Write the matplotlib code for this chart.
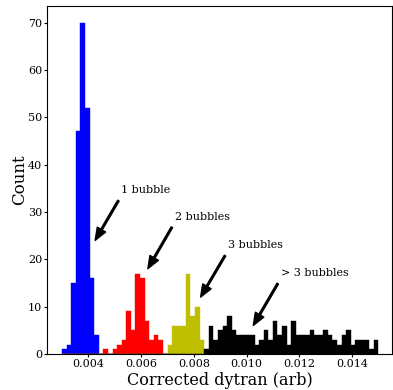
import numpy as np
import matplotlib
matplotlib.use('Agg')
from matplotlib import pyplot as plt

plt.rcParams['font.family'] = 'serif'
plt.rcParams['font.serif'] = ['DejaVu Serif']

# common histogram grid
bin_lo = 0.003
bin_hi = 0.015
n_bins = 69

# counts per group, with the index of the first bin of each group
blue_start = 0
blue_counts = [1, 2, 15, 47, 70, 52, 16, 4]
red_start = 9
red_counts = [1, 0, 1, 2, 3, 9, 5, 17, 16, 7, 3, 4, 3]
yellow_start = 23
yellow_counts = [2, 6, 6, 6, 17, 8, 10, 3]
black_start = 31
black_counts = [1, 6, 3, 5, 6, 8, 5, 4, 4, 4, 4, 2, 3, 5, 3, 7, 4, 6, 2, 7,
                4, 4, 4, 5, 4, 4, 5, 4, 3, 2, 4, 5, 2, 3, 3, 3, 1, 3]

labels = ['1 bubble', '2 bubbles', '3 bubbles', '> 3 bubbles']
arrow_tips = [(0.0042, 23.5), (0.0062, 17.5), (0.0082, 11.5), (0.0102, 5.5)]
text_pos = [(0.00525, 33.9), (0.00728, 28.3), (0.0093, 22.3), (0.0113, 16.4)]

edges = np.linspace(bin_lo, bin_hi, n_bins + 1)
centers = (edges[:-1] + edges[1:]) / 2.

fig = plt.figure(figsize=(3.93, 3.90), dpi=100)
ax = fig.add_axes([47 / 393., 1 - 354 / 390., 345 / 393., 348 / 390.])

groups = [(blue_start, blue_counts, 'b'),
          (red_start, red_counts, 'r'),
          (yellow_start, yellow_counts, 'y'),
          (black_start, black_counts, 'k')]
for start, counts, col in groups:
    w = np.zeros(n_bins)
    w[start:start + len(counts)] = counts
    ax.hist(centers, bins=edges, weights=w, color=col, edgecolor=col, linewidth=0.3)

for lab, tip, pos in zip(labels, arrow_tips, text_pos):
    ax.annotate(lab, xy=tip, xytext=pos, fontsize=8,
                arrowprops=dict(facecolor='black', shrink=0.05, width=1.2,
                                headwidth=7, headlength=9))

ax.set_xlim(0.002425, 0.01552)
ax.set_xticks([0.004, 0.006, 0.008, 0.010, 0.012, 0.014])
ax.set_xticklabels(['0.004', '0.006', '0.008', '0.010', '0.012', '0.014'])
ax.set_yticks(np.arange(0, 80, 10))
ax.tick_params(labelsize=8, pad=1, length=2.5)
ax.set_xlabel('Corrected dytran (arb)', fontsize=11.5)
ax.xaxis.set_label_coords(0.5, -0.0525)
ax.set_ylabel('Count', fontsize=12, labelpad=0)

fig.savefig('out.png', dpi=100)
